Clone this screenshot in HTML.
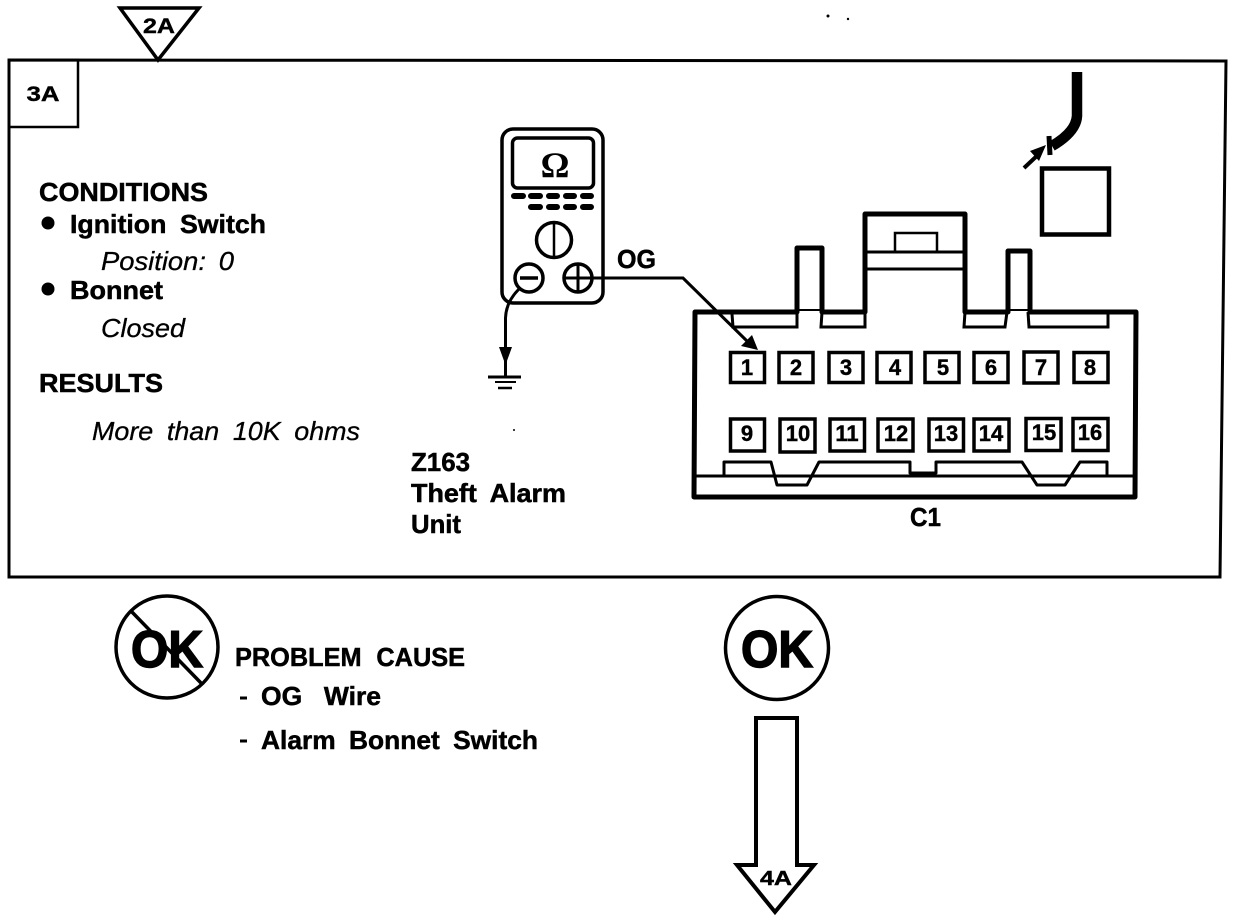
<!DOCTYPE html>
<html><head><meta charset="utf-8"><style>
html,body{margin:0;padding:0;background:#fff}
svg{display:block}
text{font-family:"Liberation Sans",sans-serif;fill:#000}
.b{font-weight:bold;font-size:26px;stroke:#000;stroke-width:.5px}
.i{font-style:italic;font-size:26px;stroke:#000;stroke-width:.3px}
.n{font-weight:bold;font-size:22px;text-anchor:middle;stroke:#000;stroke-width:.4px}
.l{fill:none;stroke:#000}
</style></head><body>
<svg width="1248" height="922" viewBox="0 0 1248 922" xmlns="http://www.w3.org/2000/svg">
<rect width="1248" height="922" fill="#fff"/>
<!-- frame -->
<path class="l" stroke-width="3" d="M9,60 L1226,61 L1220,577 L9,577 Z"/>
<path class="l" stroke-width="2.500" d="M10,60 H78 V127 H10"/>
<text x="43" y="101" class="n" style="font-size:21px" textLength="33" lengthAdjust="spacingAndGlyphs">3A</text>
<!-- 2A -->
<path d="M120,8 H199 L158,60 Z" fill="#fff" stroke="#000" stroke-width="3.500" stroke-linejoin="miter"/>
<text x="159" y="33" class="n" style="font-size:21px" textLength="32" lengthAdjust="spacingAndGlyphs">2A</text>
<!-- left text -->
<text x="39" y="201" class="b" textLength="169" lengthAdjust="spacingAndGlyphs">CONDITIONS</text>
<circle cx="48" cy="223" r="6.500"/>
<text x="70" y="233" class="b" style="word-spacing:6px" textLength="196" lengthAdjust="spacingAndGlyphs">Ignition Switch</text>
<text x="101" y="270" class="i" style="word-spacing:5px" textLength="133" lengthAdjust="spacingAndGlyphs">Position: 0</text>
<circle cx="48" cy="289" r="6.500"/>
<text x="70" y="299" class="b" textLength="93" lengthAdjust="spacingAndGlyphs">Bonnet</text>
<text x="101" y="337" class="i" textLength="84" lengthAdjust="spacingAndGlyphs">Closed</text>
<text x="39" y="392" class="b" textLength="124" lengthAdjust="spacingAndGlyphs">RESULTS</text>
<text x="92" y="440" class="i" style="word-spacing:6px" textLength="268" lengthAdjust="spacingAndGlyphs">More than 10K ohms</text>
<text x="411" y="471" class="b" textLength="59" lengthAdjust="spacingAndGlyphs">Z163</text>
<text x="411" y="502" class="b" style="word-spacing:6px" textLength="155" lengthAdjust="spacingAndGlyphs">Theft Alarm</text>
<text x="411" y="533" class="b" textLength="50" lengthAdjust="spacingAndGlyphs">Unit</text>
<!-- meter -->
<rect x="502" y="129" width="101" height="174" rx="11" class="l" stroke-width="3.500"/>
<rect x="512.500" y="138" width="81" height="50" rx="5" class="l" stroke-width="3.500"/>
<text x="555" y="177" text-anchor="middle" style="font-family:'Liberation Serif',serif;font-weight:bold;font-size:36px">Ω</text>
<g stroke="#000" stroke-width="6" stroke-linecap="round">
<path d="M514,196 H523 M531,196 H540 M549,196 H557 M566,196 H574 M583,196 H591"/>
<path d="M531,207 H540 M549,207 H557 M566,207 H574 M583,207 H591"/>
</g>
<circle cx="554" cy="240" r="17.500" class="l" stroke-width="3.500"/>
<path class="l" stroke-width="2.500" d="M554,223 V257"/>
<circle cx="529" cy="278" r="14" class="l" stroke-width="3.500"/>
<path class="l" stroke-width="3.500" d="M520,278 H538"/>
<circle cx="578" cy="278" r="14" class="l" stroke-width="3.500"/>
<path class="l" stroke-width="3" d="M564,278 H592 M578,264 V292"/>
<!-- ground lead -->
<path class="l" stroke-width="3" d="M519,289 Q506,302 505.500,318 V377"/>
<path d="M499,347 L512,347 L505.500,365 Z"/>
<path class="l" stroke-width="3" d="M488,377 H521"/>
<path class="l" stroke-width="2" d="M495,382 H516"/>
<path class="l" stroke-width="2.500" d="M498,388 H512"/>
<!-- OG lead -->
<text x="617" y="268" class="b" textLength="39" lengthAdjust="spacingAndGlyphs">OG</text>
<!-- connector -->
<path class="l" stroke-width="5" stroke-linejoin="round" d="M695,312 H797 V248 H822 V312 H865 V214 H965 V312 H1008 V251 H1030 V312 H1136 L1135,497 H694 Z"/>
<path class="l" stroke-width="3" d="M865,252 H965 M865,269 H965"/>
<path class="l" stroke-width="2.500" d="M895,252 V233 H937 V252"/>
<path class="l" stroke-width="3" d="M732,314 L733,327 H797 V312 M822,312 L821,327 H865 V312 M965,312 L964,327 H1005 L1007,312 M1028,312 L1029,327 H1108 V314"/>
<path class="l" stroke-width="2" d="M797,310 H822 M1008,310 H1030"/>
<path class="l" stroke-width="3" d="M694,476 H1136"/>
<path class="l" stroke-width="3" stroke-linejoin="round" d="M724,476 V462 H771 L777,485 H807 L819,462 H910 V473 H936 V462 H1022 L1037,485 H1065 L1080,462 H1107 V476"/>
<!-- terminals -->
<g class="l" stroke-width="3.500" fill="#fff">
<rect x="730.500" y="352.500" width="34" height="30"/><rect x="779" y="352.500" width="34" height="30"/><rect x="829" y="352.500" width="34" height="30"/><rect x="877" y="352.500" width="34" height="30"/><rect x="925" y="352.500" width="34" height="30"/><rect x="974" y="352.500" width="34" height="30"/><rect x="1024" y="352" width="34" height="31"/><rect x="1074" y="352.500" width="34" height="30"/>
<rect x="730.500" y="419" width="34" height="32"/><rect x="780" y="419" width="35" height="33"/><rect x="830" y="419" width="34.500" height="32"/><rect x="878" y="419" width="35" height="32"/><rect x="929" y="419" width="34.500" height="32"/><rect x="974" y="419" width="35" height="32"/><rect x="1026" y="418.500" width="35" height="32"/><rect x="1073" y="418.500" width="35" height="32"/>
</g>
<g class="n">
<text x="747" y="375">1</text><text x="796" y="375">2</text><text x="846" y="375">3</text><text x="895" y="375">4</text><text x="943" y="375">5</text><text x="991" y="375">6</text><text x="1041" y="375">7</text><text x="1090" y="375">8</text>
<text x="747" y="441">9</text><text x="798" y="441">10</text><text x="847" y="441">11</text><text x="896" y="441">12</text><text x="946" y="441">13</text><text x="991" y="441">14</text><text x="1044" y="440">15</text><text x="1090" y="440">16</text>
</g>
<path class="l" stroke-width="3" d="M592,278 H683 L750,344"/>
<path d="M758,350 L741,346 L752,335 Z"/>
<text x="910" y="526" class="b" textLength="31" lengthAdjust="spacingAndGlyphs">C1</text>
<!-- top right wire -->
<path class="l" stroke-width="10.500" d="M1077,72 V116 Q1076,132 1052,146"/>
<path class="l" stroke-width="5" d="M1049,136 L1050,155"/>
<path class="l" stroke-width="4" d="M1024,168 L1040,153"/>
<path d="M1030,151 L1046,145 L1039,161 Z"/>
<rect x="1042" y="168.500" width="67" height="66" class="l" stroke-width="4.500"/>
<!-- specks -->
<circle cx="828" cy="16" r="1.500"/><circle cx="848" cy="19" r="1.200"/><circle cx="514" cy="430" r="1"/>
<!-- NOT OK -->
<circle cx="167" cy="647" r="51" class="l" stroke-width="3.500"/>
<path class="l" stroke-width="3.500" d="M131,611 L201,683"/>
<text x="131" y="667" style="font-weight:bold;font-size:52px;stroke:#000;stroke-width:1.500px" textLength="72" lengthAdjust="spacingAndGlyphs">OK</text>
<!-- OK -->
<circle cx="777" cy="648" r="51.500" class="l" stroke-width="3.500"/>
<text x="741" y="667" style="font-weight:bold;font-size:52px;stroke:#000;stroke-width:1.500px" textLength="72" lengthAdjust="spacingAndGlyphs">OK</text>
<!-- problem text -->
<text x="235" y="666" class="b" style="word-spacing:8px" textLength="230" lengthAdjust="spacingAndGlyphs">PROBLEM CAUSE</text>
<path class="l" stroke-width="3" d="M240,698 H247 M240,741 H247"/>
<text x="261" y="705" class="b" style="word-spacing:14px" textLength="120" lengthAdjust="spacingAndGlyphs">OG Wire</text>
<text x="261" y="749" class="b" style="word-spacing:6px" textLength="277" lengthAdjust="spacingAndGlyphs">Alarm Bonnet Switch</text>
<!-- arrow -->
<path d="M756,718 H797 V865 H814 L775,912 L737,865 H756 Z" fill="#fff" stroke="#000" stroke-width="4" stroke-linejoin="miter"/>
<text x="776" y="885" class="n" style="font-size:20px" textLength="32" lengthAdjust="spacingAndGlyphs">4A</text>
</svg>
</body></html>
